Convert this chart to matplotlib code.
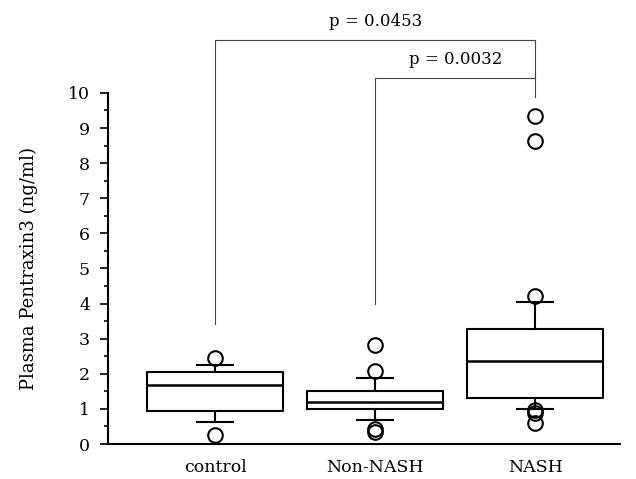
import matplotlib
matplotlib.use("Agg")
import matplotlib.pyplot as plt

plt.rcParams["font.family"] = ["DejaVu Serif"]

# groups
groups = ["control", "Non-NASH", "NASH"]
# box statistics (ng/ml)
q1 = [0.95, 1.00, 1.30]
med = [1.69, 1.21, 2.37]
q3 = [2.05, 1.52, 3.29]
whislo = [0.63, 0.69, 1.00]
whishi = [2.26, 1.89, 4.05]
fliers = [
    [2.45, 0.26],
    [2.81, 2.08, 0.42, 0.35],
    [9.35, 8.63, 4.23, 0.97, 0.88, 0.59],
]
# significance brackets: (from group, to group, bracket height, leg bottom, label)
brackets = [
    (0, 2, 11.51, 3.43, "p = 0.0453"),
    (1, 2, 10.43, 4.0, "p = 0.0032"),
]
right_leg_bottom = 9.88

positions = [1, 2, 3]
stats = []
for i, g in enumerate(groups):
    stats.append(dict(label=g, q1=q1[i], med=med[i], q3=q3[i],
                      whislo=whislo[i], whishi=whishi[i], fliers=fliers[i]))

fig = plt.figure(figsize=(6.36, 4.79), dpi=100)
ax = fig.add_axes([0.170, 0.073, 0.805, 0.733])

ax.bxp(stats, positions=positions, widths=0.85, capwidths=0.225,
       boxprops=dict(color="black", linewidth=1.5),
       medianprops=dict(color="black", linewidth=1.8),
       whiskerprops=dict(color="black", linewidth=1.5),
       capprops=dict(color="black", linewidth=1.5),
       flierprops=dict(marker="o", markerfacecolor="none",
                       markeredgecolor="black", markersize=10.5,
                       markeredgewidth=1.5))

# brackets
for a, b, h, low, txt in brackets:
    xa, xb = positions[a], positions[b]
    ax.plot([xa, xa, xb], [low, h, h], color="#444444", lw=0.8,
            clip_on=False)
    ax.text((xa + xb) / 2, h + 0.27, txt, ha="center", va="bottom",
            fontsize=12)
ax.plot([positions[2], positions[2]], [brackets[0][2], right_leg_bottom],
        color="#444444", lw=0.8, clip_on=False)

ax.set_xlim(0.33, 3.53)
ax.set_ylim(0, 10)
ax.set_yticks(range(0, 11))
ax.set_yticks([i + 0.5 for i in range(10)], minor=True)
ax.set_xticks(positions)
ax.set_xticklabels(groups, fontsize=12.5)
ax.set_xticks([positions[1]], minor=True)
ax.tick_params(axis="x", which="major", length=0, pad=11)
ax.tick_params(axis="x", which="minor", length=4, width=1.2)
ax.tick_params(axis="y", which="major", length=6, width=1.2, labelsize=12.5,
               pad=7)
ax.tick_params(axis="y", which="minor", length=3, width=1.2)
ax.set_ylabel("Plasma Pentraxin3 (ng/ml)", fontsize=13, labelpad=22)

for s in ["top", "right"]:
    ax.spines[s].set_visible(False)
for s in ["left", "bottom"]:
    ax.spines[s].set_linewidth(1.5)

fig.savefig("out.png", dpi=100)
